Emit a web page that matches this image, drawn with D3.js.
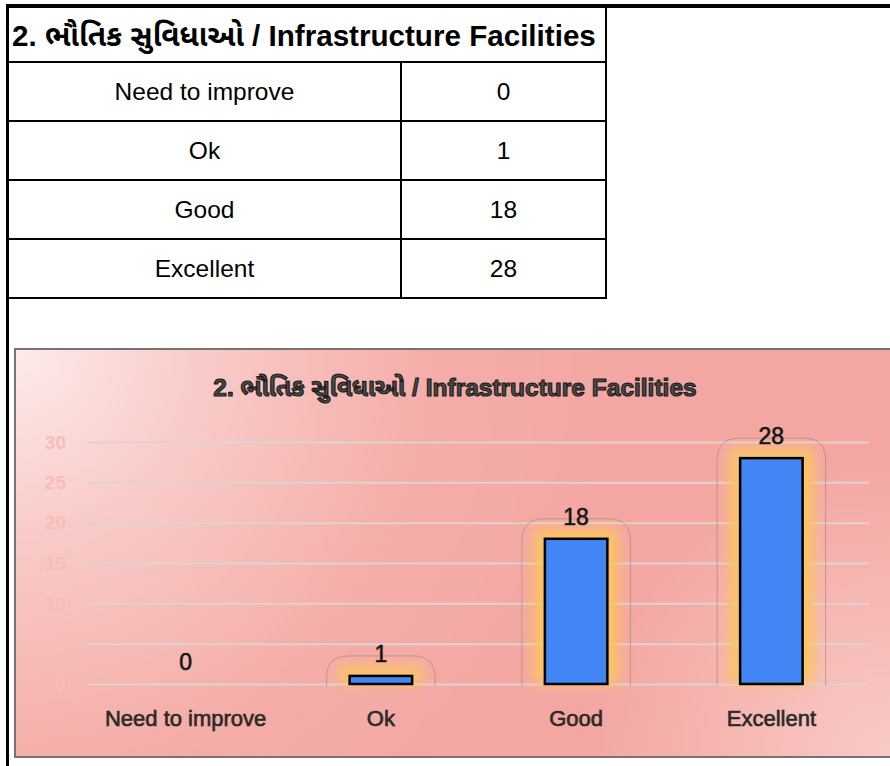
<!DOCTYPE html>
<html>
<head>
<meta charset="utf-8">
<script src="https://cdn.jsdelivr.net/npm/d3@7"></script>
<style>
  body { margin: 0; background: #fff; }
  svg { display: block; }
  text { font-family: "Liberation Sans", Arial, "Noto Sans Gujarati", "Noto Sans", sans-serif; }
</style>
</head>
<body>
<svg></svg>
<script>
let title = '2. ભૌતિક સુવિધાઓ / Infrastructure Facilities'
let categories = ['Need to improve', 'Ok', 'Good', 'Excellent']
let values = [0, 1, 18, 28]
let yTicks = [0, 5, 10, 15, 20, 25, 30]

let width = 890
let height = 766

let svg = d3.select('svg').attr('width', width).attr('height', height)

// ---- table ----
let tableLeft = 8, tableRight = 606, colSplit = 401
let rowTops = [6, 62, 121, 180, 239, 298]

let tbl = svg.append('g')

categories.forEach((c, i) => {
  let y0 = rowTops[i + 1], y1 = rowTops[i + 2]
  let cy = (y0 + y1) / 2
  tbl.append('text').attr('x', (tableLeft + colSplit) / 2).attr('y', cy)
    .attr('text-anchor', 'middle').attr('dominant-baseline', 'central')
    .attr('font-size', 24.5).attr('fill', '#000').text(c)
  tbl.append('text').attr('x', (colSplit + tableRight) / 2).attr('y', cy)
    .attr('text-anchor', 'middle').attr('dominant-baseline', 'central')
    .attr('font-size', 24.5).attr('fill', '#000').text(values[i])
})

tbl.append('text').attr('x', 12).attr('y', 46)
  .attr('font-size', 29.6).attr('font-weight', 'bold').attr('fill', '#000').text(title)

// horizontal rules
rowTops.slice(1).forEach(y => {
  tbl.append('line').attr('x1', tableLeft).attr('x2', tableRight + 1)
    .attr('y1', y).attr('y2', y).attr('stroke', '#000').attr('stroke-width', 2)
})
tbl.append('line').attr('x1', tableRight).attr('x2', tableRight)
  .attr('y1', 6).attr('y2', 299).attr('stroke', '#000').attr('stroke-width', 2)
tbl.append('line').attr('x1', colSplit).attr('x2', colSplit)
  .attr('y1', 62).attr('y2', 299).attr('stroke', '#000').attr('stroke-width', 2)
// thick outer lines
svg.append('rect').attr('x', 6).attr('y', 4).attr('width', width - 6).attr('height', 4).attr('fill', '#000')
svg.append('rect').attr('x', 6).attr('y', 4).attr('width', 3).attr('height', height).attr('fill', '#000')

// ---- chart ----
let box = {x: 15, y: 349, w: width - 15 + 4, h: 408}
let defs = svg.append('defs')

let g1 = defs.append('radialGradient').attr('id', 'hiTL').attr('gradientUnits', 'userSpaceOnUse')
  .attr('cx', box.x).attr('cy', box.y).attr('r', 600)
g1.append('stop').attr('offset', '0%').attr('stop-color', '#fff').attr('stop-opacity', 0.78)
g1.append('stop').attr('offset', '30%').attr('stop-color', '#fff').attr('stop-opacity', 0.42)
g1.append('stop').attr('offset', '70%').attr('stop-color', '#fff').attr('stop-opacity', 0.07)
g1.append('stop').attr('offset', '100%').attr('stop-color', '#fff').attr('stop-opacity', 0)

let g2 = defs.append('radialGradient').attr('id', 'hiBR').attr('gradientUnits', 'userSpaceOnUse')
  .attr('cx', 890).attr('cy', 757).attr('r', 300)
g2.append('stop').attr('offset', '0%').attr('stop-color', '#fff').attr('stop-opacity', 0.4)
g2.append('stop').attr('offset', '100%').attr('stop-color', '#fff').attr('stop-opacity', 0)

let blur = defs.append('filter').attr('id', 'glow')
  .attr('x', '-60%').attr('y', '-60%').attr('width', '220%').attr('height', '220%')
blur.append('feGaussianBlur').attr('stdDeviation', 6.5)

let chart = svg.append('g')
chart.append('rect').attr('x', box.x).attr('y', box.y).attr('width', box.w).attr('height', box.h)
  .attr('fill', '#f4a7a2')
chart.append('rect').attr('x', box.x).attr('y', box.y).attr('width', box.w).attr('height', box.h)
  .attr('fill', 'url(#hiTL)')
chart.append('rect').attr('x', box.x).attr('y', box.y).attr('width', box.w).attr('height', box.h)
  .attr('fill', 'url(#hiBR)')
chart.append('rect').attr('x', box.x).attr('y', box.y).attr('width', box.w).attr('height', box.h)
  .attr('fill', 'none').attr('stroke', '#7a7272').attr('stroke-width', 2)

chart.append('text').attr('x', 455).attr('y', 396)
  .attr('text-anchor', 'middle').attr('font-size', 24.5).attr('font-weight', 'bold')
  .attr('fill', '#4a4a4a').attr('stroke', '#1a1a1a').attr('stroke-width', 1.1)
  .text(title)

let xScale = d3.scaleBand().domain(categories).range([88, 869])
  .paddingInner(0.68).paddingOuter(0.34)
let yScale = d3.scaleLinear().domain([0, 30]).range([684, 442])

let yAxis = d3.axisLeft(yScale).tickValues(yTicks).tickSize(-(869 - 88)).tickPadding(22)
let ya = chart.append('g').attr('transform', 'translate(88,0)').call(yAxis)
ya.select('.domain').remove()
ya.selectAll('.tick line').attr('stroke', '#dcd3d3').attr('stroke-width', 2)
ya.selectAll('.tick text').attr('font-size', 19).attr('font-weight', 'bold')
  .attr('fill', '#f7bdb9').attr('font-family', '"Liberation Sans", Arial, sans-serif')

let data = categories.map((c, i) => ({c: c, v: values[i]}))

// glow
chart.selectAll('.glow').data(data.filter(d => d.v > 0)).enter().append('rect')
  .attr('class', 'glow')
  .attr('x', d => xScale(d.c) - 11)
  .attr('y', d => yScale(d.v) - 10)
  .attr('width', xScale.bandwidth() + 22)
  .attr('height', d => yScale(0) - yScale(d.v) + 10)
  .attr('fill', '#fbc463').attr('filter', 'url(#glow)')

// faint rounded outline around highlighted bars
chart.selectAll('.halo').data(data.filter(d => d.v > 0)).enter().append('path')
  .attr('class', 'halo')
  .attr('d', d => {
    let x0 = xScale(d.c) - 23, x1 = xScale(d.c) + xScale.bandwidth() + 23
    let top = yScale(d.v) - 20, bot = yScale(0) + 2, r = 22
    return `M${x0},${bot} L${x0},${top + r} Q${x0},${top} ${x0 + r},${top} L${x1 - r},${top} Q${x1},${top} ${x1},${top + r} L${x1},${bot}`
  })
  .attr('fill', 'none').attr('stroke', '#8a7070').attr('stroke-opacity', 0.45).attr('stroke-width', 1)

// bars
chart.selectAll('.bar').data(data).enter().append('rect')
  .attr('class', 'bar')
  .attr('x', d => xScale(d.c))
  .attr('y', d => yScale(d.v))
  .attr('width', xScale.bandwidth())
  .attr('height', d => yScale(0) - yScale(d.v))
  .attr('fill', '#4285f4').attr('stroke', '#000').attr('stroke-width', 2.5)
  .attr('display', d => d.v > 0 ? null : 'none')

// value labels
chart.selectAll('.val').data(data).enter().append('text')
  .attr('class', 'val')
  .attr('x', d => xScale(d.c) + xScale.bandwidth() / 2)
  .attr('y', d => yScale(d.v) - 14)
  .attr('text-anchor', 'middle').attr('font-size', 23)
  .attr('fill', '#111').attr('stroke', '#222').attr('stroke-width', 0.6)
  .text(d => d.v)

// category labels
let xAxis = d3.axisBottom(xScale).tickSize(0).tickPadding(26)
let xa = chart.append('g').attr('transform', 'translate(0,684)').call(xAxis)
xa.select('.domain').remove()
xa.selectAll('.tick text').attr('font-size', 22).attr('fill', '#2e2e2e')
  .attr('stroke', '#222').attr('stroke-width', 0.6)
  .attr('font-family', '"Liberation Sans", Arial, sans-serif')
</script>
</body>
</html>
